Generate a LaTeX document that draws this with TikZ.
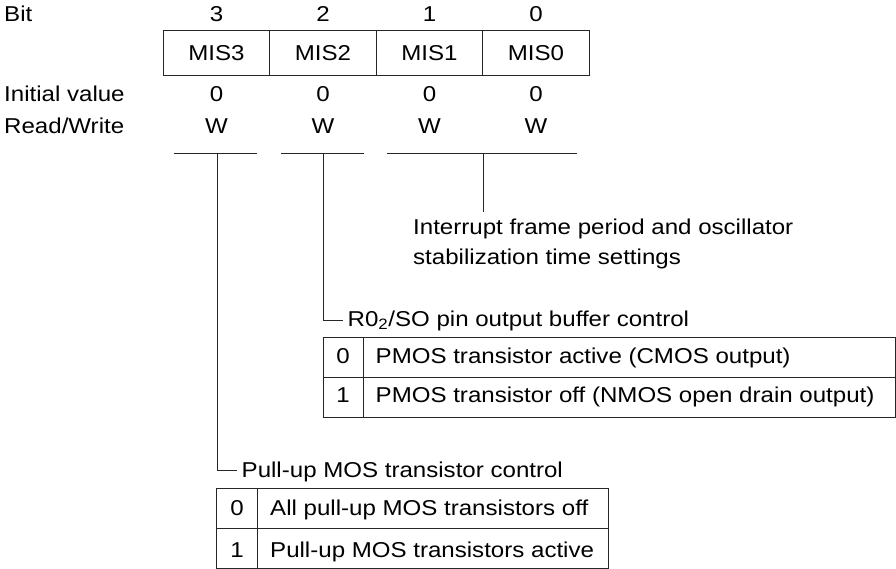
\documentclass[tikz,border=0pt]{standalone}
\usepackage{fontspec}
\setmainfont[FakeStretch=1.12]{Liberation Sans}
\begin{document}
\begin{tikzpicture}[x=1pt,y=-1pt,
  txt/.style={font=\fontsize{21.5}{25}\selectfont, inner sep=0pt},
  cell/.style={txt, draw=black!85, line width=1pt, minimum width=106.5pt, minimum height=45pt},
  ln/.style={draw=black!85, line width=1pt},
]
\useasboundingbox (0,0) rectangle (896,569);
% left labels
\node[txt,anchor=base west] (lbit) at (4,22) {Bit};
\node[txt,anchor=base west] (linit) at (4,102) {Initial value};
\node[txt,anchor=base west] (lrw) at (4,134) {Read/Write};
% register
\foreach \i/\x in {3/216.5,2/323,1/429.5,0/536} {
  \node[txt,anchor=base] (b\i) at (\x,22) {\i};
  \node[cell] (m\i) at (\x,53.5) {MIS\i};
  \node[txt,anchor=base] (v\i) at (\x,102) {0};
  \node[txt,anchor=base] (w\i) at (\x,134) {W};
}
% brackets under W
\coordinate (h3a) at (174,154); \coordinate (h3b) at (257,154);
\coordinate (h2a) at (281,154); \coordinate (h2b) at (364,154);
\coordinate (h1a) at (387,154); \coordinate (h1b) at (577,154);
\draw[ln] (h3a) -- (h3b);
\draw[ln] (h2a) -- (h2b);
\draw[ln] (h1a) -- (h1b);
% MIS1/MIS0 description
\coordinate (t1) at (483,154); \coordinate (e1) at (483,212);
\draw[ln] (t1) -- (e1);
\node[txt,anchor=base west] (d1a) at (413,235) {Interrupt frame period and oscillator};
\node[txt,anchor=base west] (d1b) at (413,265) {stabilization time settings};
% MIS2 description
\coordinate (t2) at (323,154); \coordinate (k2) at (343,320);
\draw[ln] (t2) |- (k2);
\node[txt,anchor=base west] (d2) at (347.5,326) {R0\textsubscript{2}/SO pin output buffer control};
\draw[ln] (323,337) rectangle (895,417);
\draw[ln] (323,377) -- (895,377);
\draw[ln] (363,337) -- (363,417);
\node[txt,anchor=base] (r0k) at (343,363) {0};
\node[txt,anchor=base west] (r0t) at (375.5,363) {PMOS transistor active (CMOS output)};
\node[txt,anchor=base] (r1k) at (343,402) {1};
\node[txt,anchor=base west] (r1t) at (375.5,402) {PMOS transistor off (NMOS open drain output)};
% MIS3 description
\coordinate (t3) at (217,154); \coordinate (k3) at (237,470);
\draw[ln] (t3) |- (k3);
\node[txt,anchor=base west] (d3) at (241.5,477) {Pull-up MOS transistor control};
\draw[ln] (216.5,488.5) rectangle (608,568.5);
\draw[ln] (216.5,528.5) -- (608,528.5);
\draw[ln] (257,488.5) -- (257,568.5);
\node[txt,anchor=base] (p0k) at (237,515) {0};
\node[txt,anchor=base west] (p0t) at (270,515) {All pull-up MOS transistors off};
\node[txt,anchor=base] (p1k) at (237,557) {1};
\node[txt,anchor=base west] (p1t) at (270,557) {Pull-up MOS transistors active};
\end{tikzpicture}
\end{document}
